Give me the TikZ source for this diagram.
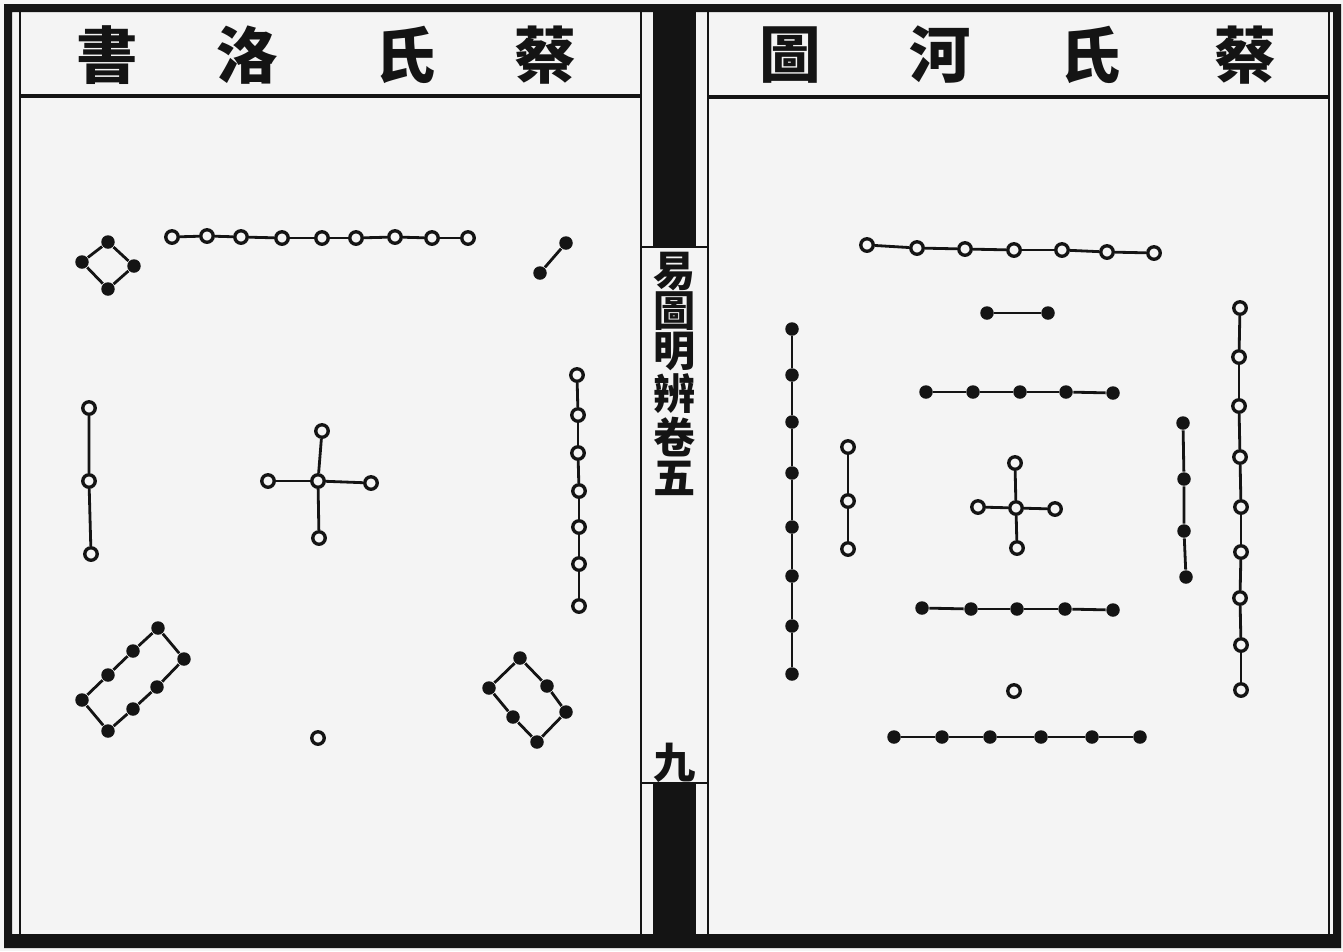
\documentclass[tikz,border=0pt]{standalone}
\usepackage{fontspec}
\newfontfamily\cjk{Noto Sans CJK TC}
\definecolor{paper}{HTML}{F4F4F4}
\definecolor{ink}{HTML}{141414}

\begin{document}
\begin{tikzpicture}[
    x=0.1mm, y=-0.1mm,
    rule/.style={ink,line width=0.7pt},
    link/.style={ink,line width=0.8pt},
    yang/.style={circle,draw=ink,fill=paper,line width=0.95pt,minimum size=1.25mm,inner sep=0pt},
    yin/.style={circle,fill=ink,minimum size=1.35mm,inner sep=0pt},
    title/.style={font=\cjk\bfseries\fontsize{17.5pt}{17.5pt}\selectfont,text=ink,inner sep=0pt},
    spine/.style={font=\cjk\bfseries\fontsize{12pt}{11.3pt}\selectfont,text=ink,align=center,inner sep=0pt}
]

% paper
\fill[paper] (0,0) rectangle (1343,951);
\useasboundingbox (0,0) rectangle (1343,951);

% frame
\fill[ink,even odd rule] (4,4) rectangle (1341,948) (12,12) rectangle (1333,934);
\draw[rule] (20,12) -- (20,934);
\draw[rule] (641,12) -- (641,934);
\draw[rule] (708,12) -- (708,934);
\draw[rule] (1329,12) -- (1329,934);
\draw[rule,line width=1pt] (20,96) -- (641,96);
\draw[rule,line width=1pt] (708,97) -- (1329,97);

% spine
\fill[ink] (653,12) rectangle (696,247);
\fill[ink] (653,783) rectangle (696,934);
\draw[rule] (641,247) -- (708,247);
\draw[rule] (641,783) -- (708,783);
\node[spine] (vol) at (675,374) {易\\圖\\明\\辨\\卷\\五};
\node[spine] (leaf) at (675,763) {九};

% titles
\foreach \ch/\x [count=\i] in {書/107,洛/247,氏/405,蔡/545}
    \node[title] (lt\i) at (\x,55) {\ch};
\foreach \ch/\x [count=\i] in {圖/790,河/940,氏/1090,蔡/1245}
    \node[title] (rt\i) at (\x,55) {\ch};

%% luo shu (left)

% nine
\foreach \x/\y [count=\i] in {172/237,207/236,241/237,282/238,322/238,356/238,395/237,432/238,468/238}
    \node[yang] (ls9-\i) at (\x,\y) {};
\foreach \i [evaluate=\i as \j using int(\i+1)] in {1,...,8}
    \draw[link] (ls9-\i) -- (ls9-\j);

% four
\node[yin] (ls4-1) at (108,242) {};
\node[yin] (ls4-2) at (134,266) {};
\node[yin] (ls4-3) at (108,289) {};
\node[yin] (ls4-4) at (82,262) {};
\draw[link] (ls4-1) -- (ls4-2) -- (ls4-3) -- (ls4-4) -- (ls4-1);

% two
\node[yin] (ls2-1) at (540,273) {};
\node[yin] (ls2-2) at (566,243) {};
\draw[link] (ls2-1) -- (ls2-2);

% three
\foreach \x/\y [count=\i] in {89/408,89/481,91/554}
    \node[yang] (ls3-\i) at (\x,\y) {};
\draw[link] (ls3-1) -- (ls3-2) -- (ls3-3);

% five
\node[yang] (ls5-c) at (318,481) {};
\node[yang] (ls5-n) at (322,431) {};
\node[yang] (ls5-s) at (319,538) {};
\node[yang] (ls5-w) at (268,481) {};
\node[yang] (ls5-e) at (371,483) {};
\foreach \d in {n,s,w,e}
    \draw[link] (ls5-c) -- (ls5-\d);

% seven
\foreach \x/\y [count=\i] in {577/375,578/415,578/453,579/491,579/527,579/564,579/606}
    \node[yang] (ls7-\i) at (\x,\y) {};
\foreach \i [evaluate=\i as \j using int(\i+1)] in {1,...,6}
    \draw[link] (ls7-\i) -- (ls7-\j);

% eight
\foreach \x/\y [count=\i] in {82/700,108/675,133/651,158/628,184/659,157/687,133/709,108/731}
    \node[yin] (ls8-\i) at (\x,\y) {};
\draw[link] (ls8-1) -- (ls8-2) -- (ls8-3) -- (ls8-4) -- (ls8-5) -- (ls8-6) -- (ls8-7) -- (ls8-8) -- (ls8-1);

% six
\foreach \x/\y [count=\i] in {520/658,547/686,566/712,537/742,513/717,489/688}
    \node[yin] (ls6-\i) at (\x,\y) {};
\draw[link] (ls6-1) -- (ls6-2) -- (ls6-3) -- (ls6-4) -- (ls6-5) -- (ls6-6) -- (ls6-1);

% one
\node[yang] (ls1) at (318,738) {};

%% he tu (right)

% seven
\foreach \x/\y [count=\i] in {867/245,917/248,965/249,1014/250,1062/250,1107/252,1154/253}
    \node[yang] (ht7-\i) at (\x,\y) {};
\foreach \i [evaluate=\i as \j using int(\i+1)] in {1,...,6}
    \draw[link] (ht7-\i) -- (ht7-\j);

% two
\node[yin] (ht2-1) at (987,313) {};
\node[yin] (ht2-2) at (1048,313) {};
\draw[link] (ht2-1) -- (ht2-2);

% ten, upper half
\foreach \x/\y [count=\i] in {926/392,973/392,1020/392,1066/392,1113/393}
    \node[yin] (htu-\i) at (\x,\y) {};
\foreach \i [evaluate=\i as \j using int(\i+1)] in {1,...,4}
    \draw[link] (htu-\i) -- (htu-\j);

% five
\node[yang] (ht5-c) at (1016,508) {};
\node[yang] (ht5-n) at (1015,463) {};
\node[yang] (ht5-s) at (1017,548) {};
\node[yang] (ht5-w) at (978,507) {};
\node[yang] (ht5-e) at (1055,509) {};
\foreach \d in {n,s,w,e}
    \draw[link] (ht5-c) -- (ht5-\d);

% eight
\foreach \y [count=\i] in {329,375,422,473,527,576,626,674}
    \node[yin] (ht8-\i) at (792,\y) {};
\foreach \i [evaluate=\i as \j using int(\i+1)] in {1,...,7}
    \draw[link] (ht8-\i) -- (ht8-\j);

% three
\foreach \y [count=\i] in {447,501,549}
    \node[yang] (ht3-\i) at (848,\y) {};
\draw[link] (ht3-1) -- (ht3-2) -- (ht3-3);

% four
\foreach \x/\y [count=\i] in {1183/423,1184/479,1184/531,1186/577}
    \node[yin] (ht4-\i) at (\x,\y) {};
\draw[link] (ht4-1) -- (ht4-2) -- (ht4-3) -- (ht4-4);

% nine
\foreach \x/\y [count=\i] in {1240/308,1239/357,1239/406,1240/457,1241/507,1241/552,1240/598,1241/645,1241/690}
    \node[yang] (ht9-\i) at (\x,\y) {};
\foreach \i [evaluate=\i as \j using int(\i+1)] in {1,...,8}
    \draw[link] (ht9-\i) -- (ht9-\j);

% ten, lower half
\foreach \x/\y [count=\i] in {922/608,971/609,1017/609,1065/609,1113/610}
    \node[yin] (htl-\i) at (\x,\y) {};
\foreach \i [evaluate=\i as \j using int(\i+1)] in {1,...,4}
    \draw[link] (htl-\i) -- (htl-\j);

% one
\node[yang] (ht1) at (1014,691) {};

% six
\foreach \x [count=\i] in {894,942,990,1041,1092,1140}
    \node[yin] (ht6-\i) at (\x,737) {};
\foreach \i [evaluate=\i as \j using int(\i+1)] in {1,...,5}
    \draw[link] (ht6-\i) -- (ht6-\j);

\end{tikzpicture}
\end{document}
